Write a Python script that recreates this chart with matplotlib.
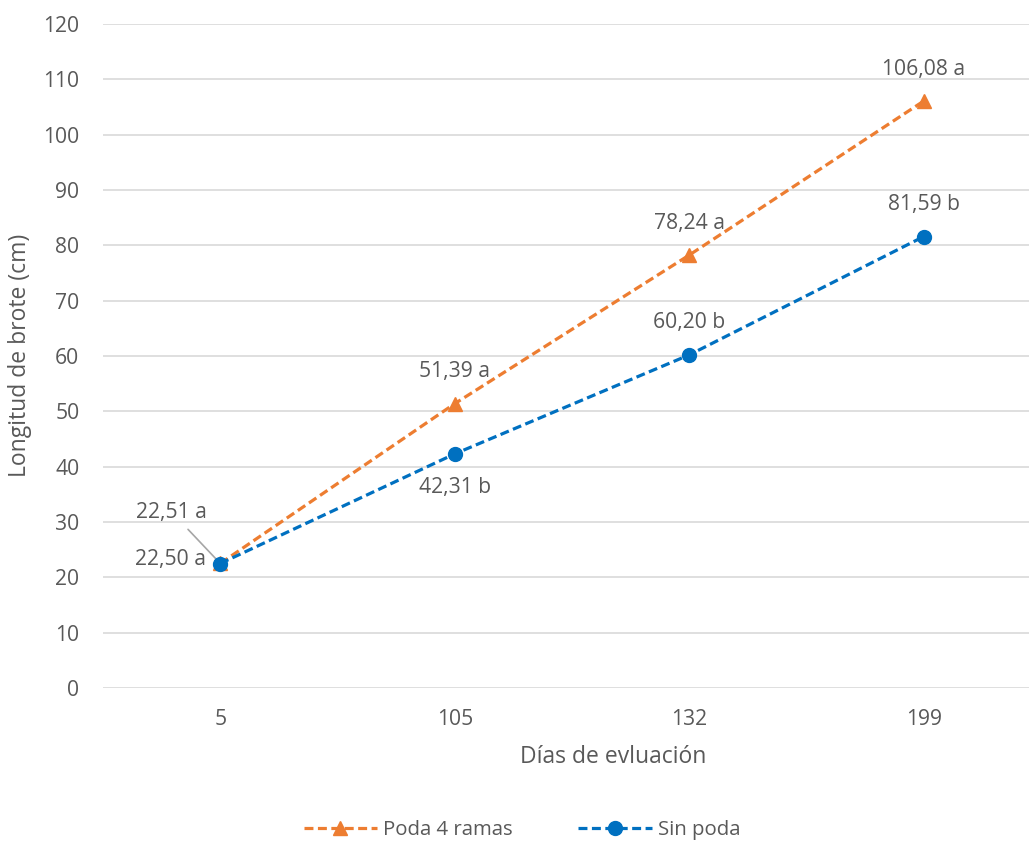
import matplotlib.pyplot as plt
import numpy as np

plt.rcParams['font.family'] = ['Open Sans', 'DejaVu Sans']

dias = ['5', '105', '132', '199']
poda = [22.51, 51.39, 78.24, 106.08]
sin_poda = [22.50, 42.31, 60.20, 81.59]
letras_poda = ['a', 'a', 'a', 'a']
letras_sin = ['a', 'b', 'b', 'b']

txt = '#595959'
naranja = '#ED7D31'
azul = '#0070C0'
fs = 15.2

fig = plt.figure(figsize=(10.29, 8.42), dpi=100)
ax = fig.add_axes([103/1029, (842-688)/842, 938/1029, 664/842])

x = np.arange(len(dias))
l1, = ax.plot(x, poda, color=naranja, lw=2.3, dashes=[2.8, 1.4], marker='^',
              markersize=10, label='Poda 4 ramas', zorder=3)
l2, = ax.plot(x, sin_poda, color=azul, lw=2.3, dashes=[2.8, 1.4], marker='o',
              markersize=10, label='Sin poda', zorder=4)

def fmt(v, letra):
    return f'{v:.2f}'.replace('.', ',') + ' ' + letra

# etiquetas de datos
off_poda = [None, (0, 23), (0, 23), (0, 23)]
off_sin = [(-36, 3), (0, -24), (0, 23), (0, 23)]
for i in range(len(dias)):
    if i == 0:
        ax.annotate(fmt(poda[i], letras_poda[i]), (x[i], poda[i]),
                    xytext=(-35, 37), textcoords='offset points',
                    ha='center', va='center', fontsize=fs, color=txt,
                    arrowprops=dict(arrowstyle='-', color='#a6a6a6', lw=1.2,
                                    shrinkA=4, shrinkB=1))
    else:
        ax.annotate(fmt(poda[i], letras_poda[i]), (x[i], poda[i]),
                    xytext=off_poda[i], textcoords='offset points',
                    ha='center', va='center', fontsize=fs, color=txt)
    ax.annotate(fmt(sin_poda[i], letras_sin[i]), (x[i], sin_poda[i]),
                xytext=off_sin[i], textcoords='offset points',
                ha='center', va='center', fontsize=fs, color=txt)

ax.set_xlim(-0.5, len(dias) - 0.5)
ax.set_ylim(0, 120)
ax.set_yticks(np.arange(0, 121, 10))
ax.set_xticks(x)
ax.set_xticklabels(dias)
ax.tick_params(length=0, labelsize=fs, labelcolor=txt)
ax.tick_params(axis='y', pad=17)
ax.tick_params(axis='x', pad=15)
ax.grid(axis='y', color='#d9d9d9', lw=1.2)
ax.set_axisbelow(True)
for s in ax.spines.values():
    s.set_visible(False)

fig.text(613/1029, 1 - 757/842, 'Días de evluación', ha='center', va='center',
         fontsize=16.5, color=txt)
fig.text(20/1029, 1 - 355/842, 'Longitud de brote (cm)', rotation=90,
         ha='center', va='center', fontsize=16.5, color=txt)

fig.legend(handles=[l1, l2], loc='center', bbox_to_anchor=(522/1029, 1 - 830/842),
           ncol=2, frameon=False, fontsize=14.7, labelcolor=txt,
           handlelength=3.6, columnspacing=3.2, handletextpad=0.3)

fig.savefig('out.png', dpi=100)
